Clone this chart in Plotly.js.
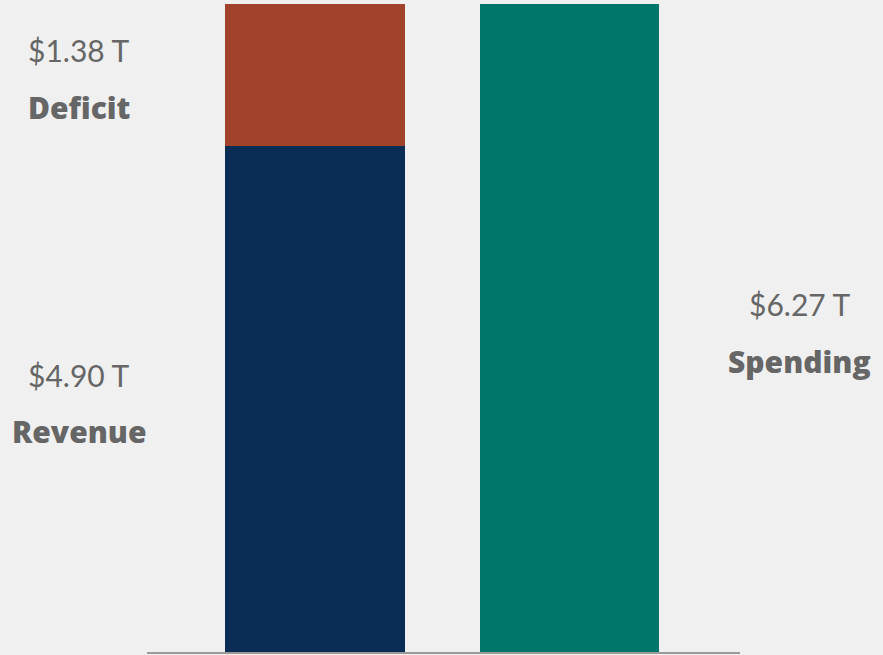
<!DOCTYPE html>
<html>
<head>
<meta charset="utf-8">
<script src="https://cdn.plot.ly/plotly-3.0.1.min.js"></script>
<style>
html,body{margin:0;padding:0;background:#f0f0f0;}
#chart{width:883px;height:655px;}
</style>
</head>
<body>
<div id="chart"></div>
<script>
// Data (trillions of dollars)
const barPositions = [0, 1];
const revenue = [4.90];
const deficit = [1.38];
const spending = [6.27];
const segmentNames = ["Revenue", "Deficit", "Spending"];

const colors = {revenue: "#0b2d55", deficit: "#a1432a", spending: "#00766b"};
const textColor = "#666666";
const fontFam = "Lato, 'Source Sans Pro', 'Open Sans', sans-serif";
const boldFam = "'Open Sans', Lato, sans-serif";
const yMax = 6.27;

function fmt(v){ return "$" + v.toFixed(2) + " T"; }

const traces = [
  {type:"bar", x:[barPositions[0]], y:revenue, name:segmentNames[0], width:0.707,
   marker:{color:colors.revenue, line:{width:0}}, hoverinfo:"none"},
  {type:"bar", x:[barPositions[0]], y:deficit, name:segmentNames[1], width:0.707,
   marker:{color:colors.deficit, line:{width:0}}, hoverinfo:"none"},
  {type:"bar", x:[barPositions[1]], y:spending, name:segmentNames[2], width:0.707,
   marker:{color:colors.spending, line:{width:0}}, hoverinfo:"none"}
];

// label positions: segment centers (paper coords)
const labels = [
  {x:-0.1147, yc: revenue[0] + deficit[0]/2, val: deficit[0], name: segmentNames[1]},
  {x:-0.1147, yc: revenue[0]/2, val: revenue[0], name: segmentNames[0]},
  {x:1.0995, yc: spending[0]/2, val: spending[0], name: segmentNames[2]}
];
const annotations = [];
labels.forEach(l => {
  annotations.push({x:l.x, y:l.yc / yMax, xref:"paper", yref:"paper", text:fmt(l.val), showarrow:false,
    xanchor:"center", yanchor:"middle", yshift:24,
    font:{family:fontFam, size:30, color:textColor}});
  annotations.push({x:l.x, y:l.yc / yMax, xref:"paper", yref:"paper", text:l.name, showarrow:false,
    xanchor:"center", yanchor:"middle", yshift:-33,
    font:{family:boldFam, size:30, color:textColor, weight:800}});
});

const layout = {
  width:883, height:655,
  paper_bgcolor:"#f0f0f0", plot_bgcolor:"#f0f0f0",
  margin:{l:147, r:143, t:4, b:3},
  barmode:"stack",
  showlegend:false,
  xaxis:{range:[-0.66, 1.67], showgrid:false, zeroline:false, showticklabels:false, ticks:"",
         showline:true, linecolor:"#9a9a9a", linewidth:2, layer:"below traces", fixedrange:true},
  yaxis:{range:[0, yMax], showgrid:false, zeroline:false, showticklabels:false, ticks:"",
         showline:false, fixedrange:true},
  annotations: annotations
};

Plotly.newPlot("chart", traces, layout, {displayModeBar:false, staticPlot:true});
</script>
</body>
</html>
